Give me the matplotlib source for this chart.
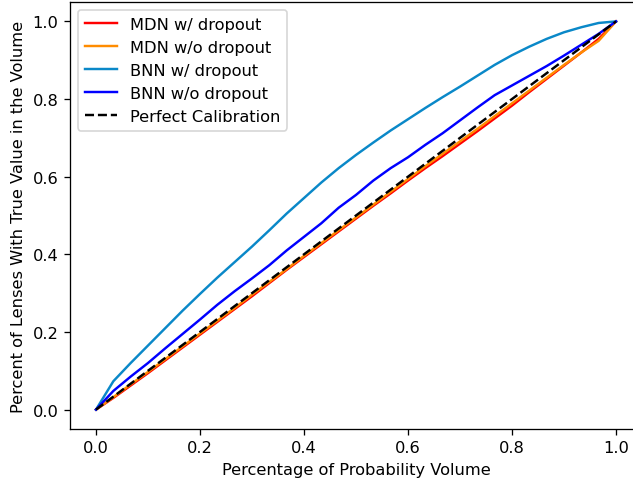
import numpy as np
import matplotlib
matplotlib.use('Agg')
import matplotlib.pyplot as plt

# probability volume grid (31 points)
x = np.linspace(0, 1, 31)

mdn_drop = [0.0, 0.030, 0.062, 0.094, 0.127, 0.160, 0.193, 0.226, 0.259, 0.292,
            0.326, 0.360, 0.393, 0.426, 0.459, 0.492, 0.525, 0.557, 0.590, 0.622,
            0.653, 0.685, 0.717, 0.750, 0.783, 0.818, 0.852, 0.886, 0.920, 0.955, 1.0]
mdn_nodrop = [0.0, 0.032, 0.065, 0.097, 0.130, 0.163, 0.196, 0.229, 0.262, 0.296,
              0.329, 0.362, 0.396, 0.429, 0.462, 0.495, 0.528, 0.561, 0.594, 0.627,
              0.659, 0.691, 0.723, 0.756, 0.789, 0.822, 0.855, 0.888, 0.920, 0.950, 1.0]
bnn_drop = [0.0, 0.073, 0.120, 0.165, 0.210, 0.255, 0.298, 0.340, 0.380, 0.420,
            0.462, 0.505, 0.545, 0.585, 0.622, 0.656, 0.688, 0.719, 0.748, 0.777,
            0.805, 0.832, 0.860, 0.888, 0.913, 0.935, 0.955, 0.972, 0.985, 0.996, 1.0]
bnn_nodrop = [0.0, 0.048, 0.085, 0.120, 0.158, 0.195, 0.232, 0.270, 0.305, 0.338,
              0.372, 0.410, 0.445, 0.480, 0.520, 0.553, 0.590, 0.622, 0.650, 0.682,
              0.712, 0.745, 0.778, 0.810, 0.835, 0.860, 0.885, 0.912, 0.940, 0.968, 1.0]

dpi = 117
fig = plt.figure(figsize=(633 / dpi, 480 / dpi), dpi=dpi)
ax1 = fig.add_subplot(111)
# the original picture is cropped on the right, so the axes run past the edge
fig.subplots_adjust(left=70 / 633, right=642 / 633, bottom=1 - 430 / 480, top=1 - 3 / 480)
ax1.plot(x, mdn_drop, c='red', label='MDN w/ dropout')
ax1.plot(x, mdn_nodrop, c='darkorange', label='MDN w/o dropout')
ax1.plot(x, bnn_drop, c='#0a88c8', label='BNN w/ dropout')
ax1.plot(x, bnn_nodrop, c='blue', label='BNN w/o dropout')
ax1.plot([0, 1], [0, 1], c='black', linestyle='--', label='Perfect Calibration')
ax1.set_xlabel('Percentage of Probability Volume')
ax1.set_ylabel('Percent of Lenses With True Value in the Volume')
plt.legend(loc='upper left')
plt.savefig('out.png', dpi=dpi)
